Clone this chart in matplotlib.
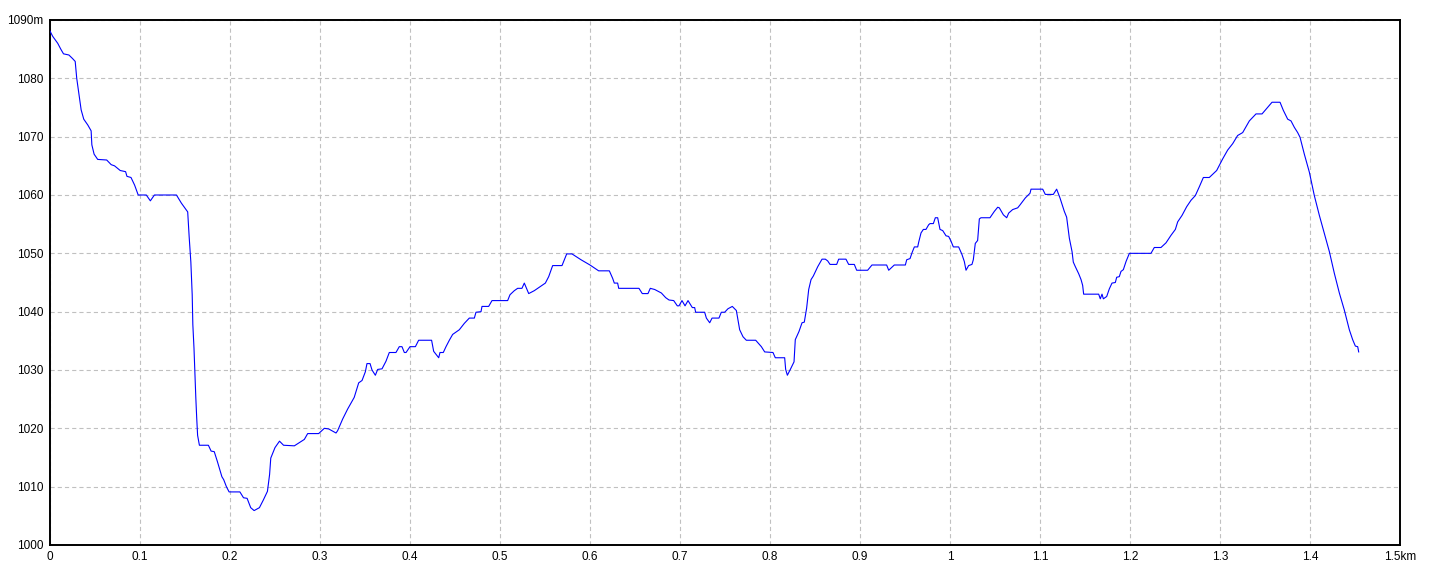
import numpy as np
import matplotlib
matplotlib.use("Agg")
import matplotlib.pyplot as plt

# elevation profile
dist_km = [0.0, 0.003, 0.0086, 0.012, 0.015, 0.021, 0.025, 0.028, 0.0297, 0.032, 0.0346, 0.0375,
           0.042, 0.0457, 0.0465, 0.049, 0.053, 0.063, 0.068, 0.0717, 0.078, 0.084, 0.0855, 0.09,
           0.094, 0.098, 0.107, 0.1115, 0.116, 0.1405, 0.146, 0.153, 0.1546, 0.1565, 0.158, 0.1587,
           0.16, 0.161, 0.162, 0.163, 0.164, 0.166, 0.176, 0.179, 0.1825, 0.186, 0.191, 0.193,
           0.196, 0.199, 0.211, 0.215, 0.219, 0.223, 0.2268, 0.2327, 0.237, 0.2416, 0.244, 0.2453,
           0.25, 0.255, 0.2595, 0.2715, 0.2826, 0.2863, 0.2985, 0.3048, 0.3096, 0.3178, 0.3196,
           0.3252, 0.3307, 0.338, 0.343, 0.3467, 0.3504, 0.3522, 0.3556, 0.3578, 0.3615, 0.3641,
           0.3689, 0.3733, 0.377, 0.3844, 0.3881, 0.3911, 0.3937, 0.3956, 0.4, 0.406, 0.4096,
           0.424, 0.4263, 0.4319, 0.4333, 0.437, 0.44, 0.4437, 0.4474, 0.4548, 0.4604, 0.4659,
           0.4715, 0.4733, 0.4789, 0.48, 0.4874, 0.4911, 0.5085, 0.5111, 0.5159, 0.5196, 0.5244,
           0.527, 0.5319, 0.5381, 0.5437, 0.5504, 0.5541, 0.5585, 0.5689, 0.5741, 0.58, 0.59, 0.6,
           0.6096, 0.6215, 0.6252, 0.627, 0.6307, 0.6319, 0.6544, 0.6581, 0.6644, 0.667, 0.6719,
           0.6793, 0.6841, 0.6878, 0.693, 0.697, 0.6989, 0.7022, 0.7056, 0.7089, 0.7137, 0.7163,
           0.7174, 0.7274, 0.7293, 0.733, 0.7356, 0.7433, 0.7459, 0.7496, 0.7533, 0.7581, 0.7626,
           0.7663, 0.77, 0.7737, 0.7841, 0.7904, 0.7941, 0.8033, 0.8059, 0.8163, 0.8174, 0.8193,
           0.8226, 0.8267, 0.8281, 0.8322, 0.8356, 0.8381, 0.8407, 0.843, 0.8456, 0.8481, 0.853,
           0.8578, 0.8615, 0.8641, 0.8667, 0.8741, 0.8763, 0.8844, 0.8874, 0.8937, 0.8963, 0.9085,
           0.9133, 0.9296, 0.9319, 0.9381, 0.9504, 0.9519, 0.9556, 0.9578, 0.9604, 0.9641, 0.9652,
           0.9678, 0.9704, 0.9733, 0.9763, 0.9778, 0.9815, 0.9837, 0.9863, 0.9889, 0.9919, 0.9956,
           0.9985, 1.0011, 1.0037, 1.0096, 1.0133, 1.0159, 1.0178, 1.0207, 1.0244, 1.0259, 1.0281,
           1.0307, 1.0326, 1.0344, 1.0444, 1.0493, 1.053, 1.0548, 1.0593, 1.063, 1.0652, 1.0696,
           1.0752, 1.0778, 1.0837, 1.0889, 1.09, 1.103, 1.1059, 1.1148, 1.1185, 1.1222, 1.127,
           1.1296, 1.1326, 1.1356, 1.137, 1.1393, 1.143, 1.1456, 1.1474, 1.1485, 1.1652, 1.167,
           1.1689, 1.1704, 1.1741, 1.177, 1.18, 1.1837, 1.1852, 1.1881, 1.19, 1.1926, 1.1956,
           1.1993, 1.2233, 1.227, 1.2344, 1.24, 1.2456, 1.2504, 1.253, 1.2578, 1.263, 1.2678,
           1.2726, 1.277, 1.2815, 1.2881, 1.2963, 1.303, 1.3085, 1.3141, 1.3196, 1.3252, 1.3326,
           1.34, 1.3467, 1.3511, 1.3578, 1.3667, 1.3704, 1.3752, 1.3789, 1.3826, 1.3863, 1.3889,
           1.3937, 1.3993, 1.4048, 1.4104, 1.4159, 1.4215, 1.427, 1.4326, 1.4381, 1.4437, 1.4474,
           1.4504, 1.453, 1.4541]
elev_m = [1088.1, 1087.2, 1086, 1085, 1084.2, 1084, 1083.4, 1082.9, 1080, 1077.4, 1074.6, 1073,
          1072, 1071, 1068.6, 1067, 1066.1, 1066, 1065.2, 1065, 1064.2, 1064, 1063.2, 1063,
          1061.7, 1060, 1060, 1059, 1060, 1060, 1058.6, 1057.1, 1052.9, 1048.5, 1042.9, 1037.8,
          1033.7, 1029.3, 1025.3, 1021.8, 1018.8, 1017.1, 1017.1, 1016.1, 1016, 1014.3, 1011.7, 1011.2,
          1010, 1009.1, 1009.1, 1008.1, 1008, 1006.4, 1005.9, 1006.4, 1007.7, 1009.2, 1012.1, 1014.9,
          1016.7, 1017.8, 1017.1, 1017, 1018.1, 1019.1, 1019.1, 1020, 1019.9, 1019.2, 1019.6,
          1021.6, 1023.3, 1025.3, 1027.8, 1028.2, 1029.7, 1031.1, 1031.1, 1030, 1029.1, 1030.1,
          1030.2, 1031.5, 1033, 1033, 1034, 1034, 1033, 1033, 1034, 1034, 1035.1,
          1035.1, 1033.2, 1032.1, 1033, 1033, 1034, 1035.1, 1036.1, 1036.9, 1038, 1038.9,
          1038.9, 1039.9, 1040, 1040.9, 1040.9, 1041.9, 1041.9, 1042.9, 1043.6, 1044, 1044,
          1044.9, 1043.1, 1043.6, 1044.2, 1044.9, 1046, 1047.9, 1047.9, 1049.9, 1049.9, 1048.9, 1048,
          1047, 1047, 1045.7, 1044.9, 1044.9, 1044, 1044, 1043.1, 1043.1, 1044, 1043.8,
          1043.2, 1042.4, 1042, 1041.9, 1041, 1041, 1041.9, 1041, 1041.9, 1040.7, 1040.7,
          1039.9, 1039.9, 1038.9, 1038.1, 1038.9, 1038.9, 1039.9, 1039.9, 1040.5, 1040.9, 1040.2,
          1036.9, 1035.7, 1035.1, 1035.1, 1034, 1033.1, 1033, 1032.1, 1032.1, 1030.1, 1029.1,
          1030.1, 1031.4, 1035.2, 1036.6, 1038.1, 1038.2, 1040.6, 1043.8, 1045.5, 1046.1, 1047.7,
          1049, 1049, 1048.7, 1048.1, 1048.1, 1049, 1049, 1048.1, 1048.1, 1047.1, 1047.1,
          1048, 1048, 1047.1, 1048, 1048, 1048.9, 1049.1, 1050.1, 1051.1, 1051.1, 1051.9,
          1053.5, 1054.1, 1054.1, 1054.9, 1055.1, 1055.1, 1056.1, 1056.1, 1054.1, 1053.9, 1053,
          1052.9, 1052.1, 1051.1, 1051.1, 1049.8, 1048.6, 1047.1, 1047.9, 1048.1, 1048.9, 1051.7,
          1052.2, 1055.9, 1056.1, 1056.1, 1057.2, 1057.9, 1057.8, 1056.6, 1056.1, 1056.9, 1057.5,
          1057.8, 1058.3, 1059.5, 1060.3, 1061, 1061, 1060.1, 1060.1, 1061, 1059.5, 1057.2,
          1056.2, 1052.6, 1050.3, 1048.5, 1047.7, 1046.5, 1045.5, 1044.5, 1043, 1043, 1042.2,
          1043, 1042.2, 1042.6, 1043.9, 1044.9, 1045, 1045.9, 1046, 1046.9, 1047.2, 1048.6,
          1050, 1050, 1051, 1051, 1051.8, 1053.1, 1054.1, 1055.4, 1056.5, 1058, 1059.1,
          1059.9, 1061.4, 1063, 1063, 1064.2, 1066.2, 1067.7, 1068.8, 1070.2, 1070.7, 1072.7,
          1073.9, 1073.9, 1074.7, 1075.9, 1075.9, 1074.5, 1073, 1072.7, 1071.6, 1070.7, 1069.9,
          1067, 1063.9, 1059.9, 1056.5, 1053.4, 1050.3, 1046.6, 1043.2, 1040.3, 1036.9, 1035.2,
          1034.1, 1034, 1033.1]

x_ticks = [0, 0.1, 0.2, 0.3, 0.4, 0.5, 0.6, 0.7, 0.8, 0.9, 1.0, 1.1, 1.2, 1.3, 1.4, 1.5]
x_labels = ["0", "0.1", "0.2", "0.3", "0.4", "0.5", "0.6", "0.7", "0.8", "0.9",
            "1", "1.1", "1.2", "1.3", "1.4", "1.5km"]
y_ticks = [1000, 1010, 1020, 1030, 1040, 1050, 1060, 1070, 1080, 1090]
y_labels = ["1000", "1010", "1020", "1030", "1040", "1050", "1060", "1070", "1080", "1090m"]

plt.rcParams['font.family'] = ['Liberation Sans', 'DejaVu Sans']
plt.rcParams['lines.scale_dashes'] = False

fig = plt.figure(figsize=(14.4, 5.76), dpi=100)
ax = fig.add_axes([50 / 1440, 31 / 576, 1350 / 1440, 525 / 576])

ax.plot(dist_km, elev_m, color="#0000ff", linewidth=0.8, zorder=3)

ax.set_xlim(0, 1.5)
ax.set_ylim(1000, 1090)
ax.set_xticks(x_ticks)
ax.set_xticklabels(x_labels)
ax.set_yticks(y_ticks)
ax.set_yticklabels(y_labels)
ax.tick_params(length=0, pad=4.5, labelsize=8.5, colors="black")

ax.grid(True, color="#c0c0c0", linestyle=(0, (3, 2.2)), linewidth=0.8)
for s in ax.spines.values():
    s.set_linewidth(1.4)
    s.set_color("black")

fig.savefig("out.png", dpi=100)
